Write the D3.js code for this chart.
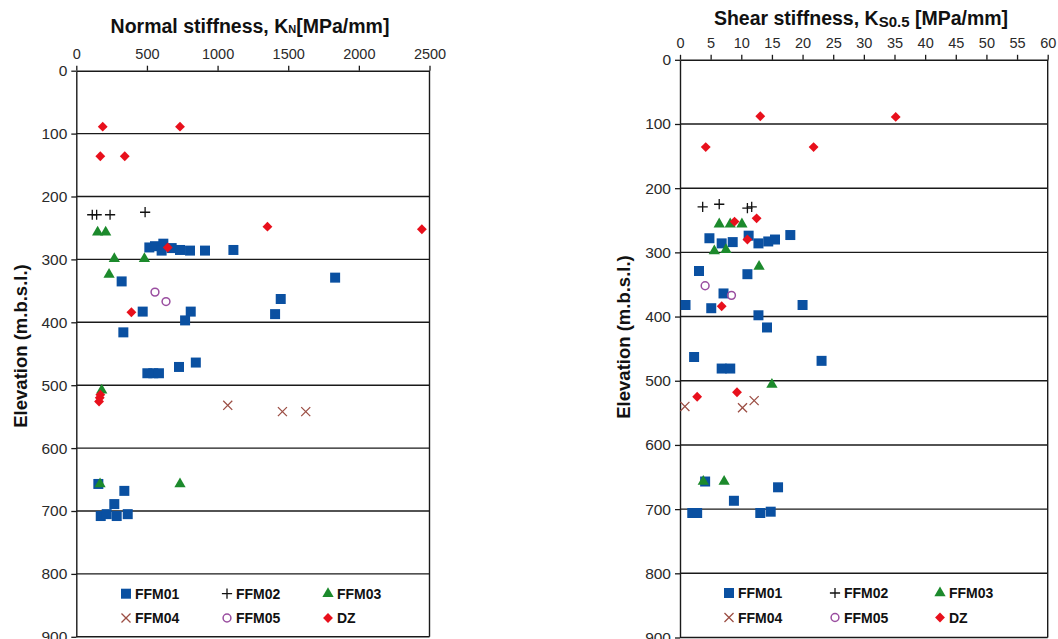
<!DOCTYPE html>
<html>
<head>
<meta charset="utf-8">
<script src="https://cdn.jsdelivr.net/npm/d3@7"></script>
<style>
  body { margin: 0; background: #fff; }
  text { font-family: "Liberation Sans", Arial, sans-serif; }
</style>
</head>
<body>
<div id="chart"></div>
<script>
// series names (legend order)
const seriesNames = ['FFM01', 'FFM02', 'FFM03', 'FFM04', 'FFM05', 'DZ'];

// Normal stiffness KN [MPa/mm] vs elevation [m.b.s.l.]
const normalFFM01 = [[517,281],[557,279],[616,275],[604,286],[675,282],[734,285],[805,286],[911,286],[1112,285],
  [321,335],[1832,329],[1447,363],[1407,387],[470,383],[810,383],[770,397],[333,416],
  [503,481],[545,481],[585,481],[727,471],[846,464],
  [156,657],[340,668],[269,689],[173,708],[215,705],[286,708],[364,705]];
const normalFFM02 = [[113,229],[144,229],[239,229],[487,225]];
const normalFFM03 = [[151,257],[208,257],[269,299],[482,299],[232,324],[180,508],[168,657],[734,657]];
const normalFFM04 = [[1072,532],[1459,542],[1624,542]];
const normalFFM05 = [[557,352],[635,367]];
const normalDZ = [[187,89],[734,89],[170,136],[343,136],[1353,248],[2446,252],[647,281],[390,384],[170,515],[166,520],[161,526]];

// Shear stiffness KS0.5 [MPa/mm] vs elevation
const shearFFM01 = [[4.8,278],[6.8,286],[8.6,284],[11.2,274],[12.8,286],[14.4,283],[15.5,280],[18.0,273],
  [3.1,329],[11.0,334],[7.1,364],[0.9,382],[5.1,387],[20.0,382],[12.8,398],[14.2,417],
  [2.3,463],[6.8,481],[8.2,481],[23.1,469],
  [4.1,657],[8.8,687],[2.0,706],[2.8,706],[13.1,706],[14.8,704],[16.0,666]];
const shearFFM02 = [[3.7,229],[6.4,225],[11.0,231],[11.7,229]];
const shearFFM03 = [[6.4,256],[8.2,256],[10.1,256],[5.6,298],[7.5,296],[12.9,322],[15.0,506],[3.8,657],[7.2,657]];
const shearFFM04 = [[0.8,540],[10.2,542],[12.1,531]];
const shearFFM05 = [[4.1,352],[8.4,367]];
const shearDZ = [[4.2,136],[13.1,88],[21.8,136],[35.2,89],[8.9,252],[12.5,247],[11.0,280],[6.8,384],[2.8,525],[9.3,518]];

// tick values
const normalTicks = [0, 500, 1000, 1500, 2000, 2500];
const shearTicks = [0, 5, 10, 15, 20, 25, 30, 35, 40, 45, 50, 55, 60];
const elevTicks = [0, 100, 200, 300, 400, 500, 600, 700, 800, 900];

// marker styles per series
const markers = {
  FFM01: {type: d3.symbolSquare, size: 100, fill: '#0a50a1', stroke: 'none'},
  FFM02: {type: d3.symbolPlus, size: 36, fill: 'none', stroke: '#111', sw: 1.3},
  FFM03: {type: d3.symbolTriangle, size: 55, fill: '#1c8a2c', stroke: 'none'},
  FFM04: {type: d3.symbolTimes, size: 55, fill: 'none', stroke: '#9c4f45', sw: 1.3},
  FFM05: {type: d3.symbolCircle, size: 48, fill: 'none', stroke: '#9a4ea0', sw: 1.5},
  DZ:    {type: d3.symbolDiamond2, size: 62, fill: '#e8101c', stroke: 'none'}
};

const W = 1058, H = 639;
const svg = d3.select('#chart').append('svg')
  .attr('width', W).attr('height', H);

function drawPanel(p) {
  const x = d3.scaleLinear().domain(p.xDomain).range([p.left, p.right]);
  const y = d3.scaleLinear().domain([0, 900]).range([p.top, p.bottom]);
  const g = svg.append('g');

  // gridlines
  g.selectAll('.grid').data(elevTicks.slice(1)).enter().append('line')
    .attr('x1', p.left).attr('x2', p.right)
    .attr('y1', d => y(d)).attr('y2', d => y(d))
    .attr('stroke', '#1a1a1a').attr('stroke-width', 1.4);
  // right border
  g.append('line').attr('x1', p.right).attr('x2', p.right)
    .attr('y1', p.top).attr('y2', p.bottom)
    .attr('stroke', '#1a1a1a').attr('stroke-width', 1.4);

  // axes
  const xAxis = d3.axisTop(x).tickValues(p.xTicks).tickFormat(d3.format('d'))
    .tickSize(5).tickSizeOuter(0).tickPadding(7);
  const xg = g.append('g').attr('transform', `translate(0,${p.top})`).call(xAxis);
  xg.selectAll('text').attr('font-size', 14.5).attr('fill', '#2a2a2a');

  const yAxis = d3.axisLeft(y).tickValues(elevTicks).tickFormat(d3.format('d'))
    .tickSize(5).tickSizeOuter(0).tickPadding(4);
  const yg = g.append('g').attr('transform', `translate(${p.left},0)`).call(yAxis);
  yg.selectAll('text').attr('font-size', 15.5).attr('fill', '#2a2a2a');

  [xg, yg].forEach(a => {
    a.select('.domain').attr('stroke', '#1a1a1a').attr('stroke-width', 1.4);
    a.selectAll('.tick line').attr('stroke', '#1a1a1a').attr('stroke-width', 1.3);
  });

  // points, series order so DZ ends up on top
  p.series.forEach((pts, i) => {
    const m = markers[seriesNames[i]];
    const sym = d3.symbol().type(m.type).size(m.size);
    g.selectAll(null).data(pts).enter().append('path')
      .attr('transform', d => `translate(${x(d[0])},${y(d[1])})`)
      .attr('d', sym)
      .attr('fill', m.fill).attr('stroke', m.stroke)
      .attr('stroke-width', m.sw || 0);
  });

  // title
  const t = g.append('text').attr('x', p.titleX).attr('y', p.titleY)
    .attr('text-anchor', 'middle').attr('font-weight', 'bold').attr('font-size', 19.5)
    .attr('fill', '#111');
  t.append('tspan').text(p.title[0]);
  t.append('tspan').text(p.title[1]).attr('font-size', p.subSize).attr('dy', p.subDy);
  t.append('tspan').text(p.title[2]).attr('dy', -p.subDy);

  // y label
  g.append('text')
    .attr('transform', `translate(${p.ylabX},${p.ylabY}) rotate(-90)`)
    .attr('text-anchor', 'middle').attr('dy', '0.35em')
    .attr('font-weight', 'bold').attr('font-size', 18.5).attr('fill', '#111')
    .text('Elevation (m.b.s.l.)');

  // legend
  seriesNames.forEach((name, i) => {
    const m = markers[name];
    const lx = p.legX[i % 3], ly = p.legY[Math.floor(i / 3)];
    g.append('path').attr('transform', `translate(${lx},${ly})`)
      .attr('d', d3.symbol().type(m.type).size(m.size))
      .attr('fill', m.fill).attr('stroke', m.stroke).attr('stroke-width', m.sw || 0);
    g.append('text').attr('x', lx + 9).attr('y', ly).attr('dy', '0.36em')
      .attr('font-size', 14).attr('font-weight', 'bold').attr('fill', '#111')
      .text(name);
  });
}

drawPanel({
  xDomain: [0, 2500], xTicks: normalTicks,
  left: 76.3, right: 429.5, top: 70.7, bottom: 636.8,
  series: [normalFFM01, normalFFM02, normalFFM03, normalFFM04, normalFFM05, normalDZ],
  title: ['Normal stiffness, K', 'N', '[MPa/mm]'], subSize: 11, subDy: 0,
  titleX: 250, titleY: 33,
  ylabX: 21, ylabY: 346,
  legX: [126, 227, 328], legY: [593.7, 618]
});

drawPanel({
  xDomain: [0, 60], xTicks: shearTicks,
  left: 680, right: 1047.7, top: 59.8, bottom: 637.5,
  series: [shearFFM01, shearFFM02, shearFFM03, shearFFM04, shearFFM05, shearDZ],
  title: ['Shear stiffness, K', 'S0.5', ' [MPa/mm]'], subSize: 15, subDy: 2,
  titleX: 861, titleY: 25,
  ylabX: 624, ylabY: 337,
  legX: [729, 835, 940], legY: [593, 617.5]
});
</script>
</body>
</html>
